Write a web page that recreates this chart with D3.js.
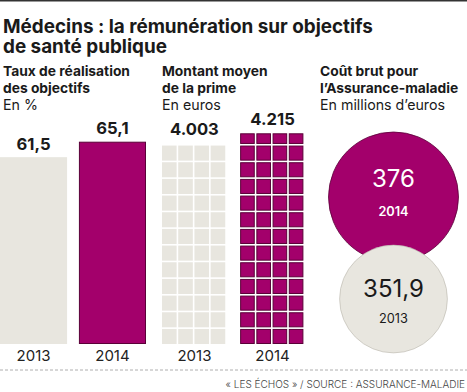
<!DOCTYPE html>
<html><head><meta charset="utf-8">
<script src="https://cdn.jsdelivr.net/npm/d3@7"></script>
<style>
html,body{margin:0;padding:0;background:#fff;}
svg{display:block;}
</style></head>
<body>
<svg id="c" width="467" height="392"></svg>
<script>
const years = ["2013", "2014"];
const tauxValues = [61.5, 65.1];
const tauxLabels = ["61,5", "65,1"];
const primeValues = [4003, 4215];
const primeLabels = ["4.003", "4.215"];
const coutValues = [351.9, 376];
const coutLabels = ["351,9", "376"];
const titleLines = ["Médecins : la rémunération sur objectifs", "de santé publique"];
const panelHeads = [
  ["Taux de réalisation", "des objectifs", "En %"],
  ["Montant moyen", "de la prime", "En euros"],
  ["Coût brut pour", "l’Assurance-maladie", "En millions d’euros"]
];
const sourceText = "« LES ÉCHOS » / SOURCE : ASSURANCE-MALADIE";

const MAG = "#a3006b", MAGD = "#5a0038", BEIGE = "#e8e6df", INK = "#1a1a1a";
const FONT = "Inter, 'Open Sans', sans-serif";
const svg = d3.select("#c");

function fitSize(text, weight, target){
  const t = svg.append("text").attr("font-family",FONT).attr("font-weight",weight)
    .attr("font-size",20).text(text);
  const w = t.node().getComputedTextLength();
  t.remove();
  return 20*target/w;
}
const titleSize = fitSize(titleLines[0],700,370);
const headSize = fitSize("Taux de réalisation",700,127);
const subSize = fitSize("En millions d’euros",400,125);
const valSize = fitSize("61,5",700,34);
const yearSize = fitSize("2013",400,34);
const bigSize = fitSize("376",400,43);
const srcSize = fitSize(sourceText,400,243);

svg.append("rect").attr("x",0).attr("y",0).attr("width",467).attr("height",1.5).attr("fill","#333");

svg.selectAll("text.title").data(titleLines).join("text")
  .attr("x",3).attr("y",(d,i)=>32.5+i*20)
  .attr("font-family",FONT).attr("font-weight",700).attr("font-size",titleSize)
  .attr("fill",INK).text(d=>d);

const headX = [3, 162, 320];
panelHeads.forEach((lines,p)=>{
  svg.selectAll("text.h"+p).data(lines).join("text")
    .attr("x",headX[p]).attr("y",(d,i)=>76+i*17)
    .attr("font-family",FONT).attr("font-weight",(d,i)=>i<2?700:400)
    .attr("font-size",(d,i)=>i<2?headSize:subSize).attr("fill",INK).text(d=>d);
});

const base = 344;
// Panel 1: bars
const x1 = d3.scaleBand().domain(years).range([0,146]).paddingInner(0.15);
const y1 = d3.scaleLinear().domain([18, 65.1]).range([base, 141.7]);
const g1 = svg.append("g");
g1.selectAll("rect").data(years).join("rect")
  .attr("x",(d,i)=>x1(d)+(i?0.5:0)).attr("width",(d,i)=>x1.bandwidth()-(i?1:0))
  .attr("y",(d,i)=>y1(tauxValues[i])+(i?0.5:0)).attr("height",(d,i)=>base-y1(tauxValues[i])-(i?1:0))
  .attr("fill",(d,i)=>i?MAG:BEIGE)
  .attr("stroke",(d,i)=>i?MAGD:"none").attr("stroke-width",1);
g1.selectAll("text.v").data(years).join("text").attr("class","v")
  .attr("x",d=>x1(d)+x1.bandwidth()/2).attr("y",(d,i)=>y1(tauxValues[i])-7.5)
  .attr("text-anchor","middle").attr("font-family",FONT).attr("font-weight",700)
  .attr("font-size",valSize).attr("fill",INK).text((d,i)=>tauxLabels[i]);
g1.append("g").attr("transform",`translate(0,${base})`).call(d3.axisBottom(x1).tickSize(0).tickPadding(0))
  .call(g=>g.select(".domain").remove())
  .selectAll("text").attr("dy",null).attr("y",17).attr("font-family",FONT).attr("font-size",yearSize).attr("fill","#222");

// Panel 2: grid
const x2 = d3.scaleBand().domain(years).range([162,305]).paddingInner(0.17);
const y2 = d3.scaleLinear().domain([0, 4215]).range([base, 133.3]);
const pitch = 16.67, cols = 4, gap = 1.6;
const g2 = svg.append("g");
years.forEach((yr,i)=>{
  const top = y2(primeValues[i]);
  const h = base - top;
  const nRows = Math.ceil(h/pitch - 0.05);
  const cw = x2.bandwidth()/cols;
  const cells = [];
  for(let r=0;r<nRows;r++){
    for(let c=0;c<cols;c++){
      const yb = base - r*pitch;
      const yt = Math.max(top, yb - pitch + gap);
      cells.push({x:x2(yr)+c*cw, y:yt, w:cw-gap, h:yb-yt});
    }
  }
  g2.selectAll("rect.c"+i).data(cells).join("rect")
    .attr("x",d=>d.x+(i?0.5:0)).attr("y",d=>d.y+(i?0.5:0))
    .attr("width",d=>d.w-(i?1:0)).attr("height",d=>Math.max(0,d.h-(i?1:0)))
    .attr("fill",i?MAG:BEIGE).attr("stroke",i?MAGD:"none").attr("stroke-width",1);
  g2.append("text").attr("x",x2(yr)+x2.bandwidth()/2).attr("y",top-8.5)
    .attr("text-anchor","middle").attr("font-family",FONT).attr("font-weight",700)
    .attr("font-size",valSize).attr("fill",INK).text(primeLabels[i]);
});
g2.append("g").attr("transform",`translate(0,${base})`).call(d3.axisBottom(x2).tickSize(0).tickPadding(0))
  .call(g=>g.select(".domain").remove())
  .selectAll("text").attr("dy",null).attr("y",17).attr("font-family",FONT).attr("font-size",yearSize).attr("fill","#222");

// Panel 3: circles
const r3 = d3.scaleLinear().domain([235, 376]).range([0, 65]);
const cy = {"2014":197, "2013":299};
const numOff = {"2014":-10, "2013":-2};
const yrOff = {"2014":19, "2013":24};
const cx = 393.5;
const g3 = svg.append("g");
[1,0].forEach(i=>{
  const yr = years[i];
  g3.append("circle").attr("cx",cx).attr("cy",cy[yr]).attr("r",r3(coutValues[i]))
    .attr("fill",i?MAG:BEIGE).attr("stroke",i?MAGD:"#b9b5ab").attr("stroke-width",i?0.8:0.6);
  g3.append("text").attr("x",cx).attr("y",cy[yr]+numOff[yr])
    .attr("text-anchor","middle").attr("font-family",FONT).attr("font-weight",400)
    .attr("font-size",bigSize).attr("fill",i?"#fff":INK).text(coutLabels[i]);
  g3.append("text").attr("x",cx).attr("y",cy[yr]+yrOff[yr])
    .attr("text-anchor","middle").attr("font-family",FONT).attr("font-weight",i?600:400)
    .attr("font-size",yearSize*0.85).attr("fill",i?"#fff":INK).text(yr);
});

svg.append("line").attr("x1",0).attr("x2",467).attr("y1",370).attr("y2",370)
  .attr("stroke","#999").attr("stroke-width",0.8).attr("stroke-dasharray","3,2");
svg.append("text").attr("x",465).attr("y",388).attr("text-anchor","end")
  .attr("font-family",FONT).attr("font-weight",300).attr("font-size",srcSize).attr("fill","#444").text(sourceText);
</script>
</body></html>
